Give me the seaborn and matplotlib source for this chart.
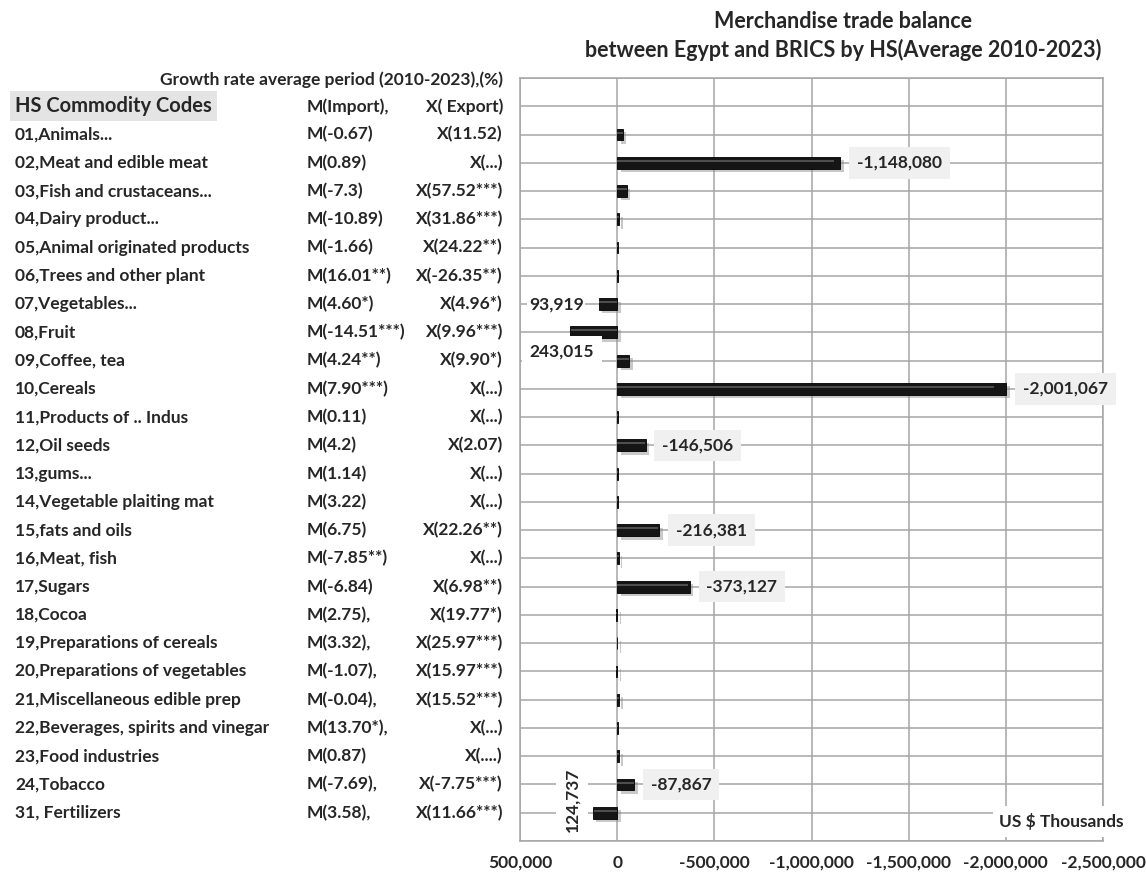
import numpy as np
import pandas as pd
import matplotlib
matplotlib.use('Agg')
import matplotlib.pyplot as plt
import matplotlib.transforms as mtrans
import matplotlib.patheffects as pe
import seaborn as sns

#=====================
# DATA
#=====================
codes = ["01,Animals...", "02,Meat and edible meat", "03,Fish and crustaceans...",
         "04,Dairy product...", "05,Animal originated products", "06,Trees and other plant",
         "07,Vegetables...", "08,Fruit", "09,Coffee, tea", "10,Cereals",
         "11,Products of .. Indus", "12,Oil seeds", "13,gums...", "14,Vegetable plaiting mat",
         "15,fats and oils", "16,Meat, fish", "17,Sugars", "18,Cocoa",
         "19,Preparations of cereals", "20,Preparations of vegetables",
         "21,Miscellaneous edible prep", "22,Beverages, spirits and vinegar",
         "23,Food industries", "24,Tobacco", "31, Fertilizers"]

m_growth = ["M(-0.67)", "M(0.89)", "M(-7.3)", "M(-10.89)", "M(-1.66)", "M(16.01**)",
            "M(4.60*)", "M(-14.51***)", "M(4.24**)", "M(7.90***)", "M(0.11)", "M(4.2)",
            "M(1.14)", "M(3.22)", "M(6.75)", "M(-7.85**)", "M(-6.84)", "M(2.75),",
            "M(3.32),", "M(-1.07),", "M(-0.04),", "M(13.70*),", "M(0.87)", "M(-7.69),",
            "M(3.58),"]

x_growth = ["X(11.52)", "X(...)", "X(57.52***)", "X(31.86***)", "X(24.22**)", "X(-26.35**)",
            "X(4.96*)", "X(9.96***)", "X(9.90*)", "X(...)", "X(...)", "X(2.07)",
            "X(...)", "X(...)", "X(22.26**)", "X(...)", "X(6.98**)", "X(19.77*)",
            "X(25.97***)", "X(15.97***)", "X(15.52***)", "X(...)", "X(....)",
            "X(-7.75***)", "X(11.66***)"]

# trade balance, US $ thousands (small ones)
balance = [-30000, -1148080, -50000, -10000, -3000, -3000, 93919, 243015, -62000,
           -2001067, -2000, -146506, -2000, -2000, -216381, -8000, -373127, 4000,
           3000, 4000, -12000, -3000, -12000, -87867, 124737]

boxed_labels = ["02", "10", "12", "15", "17", "24"]

x_ticks = [500000, 0, -500000, -1000000, -1500000, -2000000, -2500000]

title = "Merchandise trade balance\nbetween Egypt and BRICS by HS(Average 2010-2023)"

df = pd.DataFrame({'code': codes, 'balance': balance})
df['hs'] = df['code'].str[:2]

#=====================
# FIGURE
#=====================
sns.set_style('white')
plt.rcParams['font.family'] = ['Lato', 'DejaVu Sans']
FS = 12.5

W, H = 1146, 873
fig = plt.figure(figsize=(W / 100, H / 100), dpi=100, facecolor='white')
ax = fig.add_axes([520 / W, 32 / H, 583 / W, 763 / H])

sns.barplot(data=df, x='balance', y='code', orient='h', color='#151515',
            width=0.42, saturation=1, edgecolor='#000000', linewidth=0.6, ax=ax)

# shadow + highlight to mimic the bevelled bars
for p in ax.patches:
    p.set_path_effects([pe.SimplePatchShadow(offset=(2.5, -2.5), shadow_rgbFace='#888888', alpha=0.45),
                        pe.Normal()])
ypos = np.arange(len(df))
ax.hlines(ypos - 0.07, 0, df['balance'] * 0.97, color='#5a5a5a', lw=1.2, zorder=3)

ax.set_ylim(len(df), -2)
ax.set_yticks(np.arange(-2, len(df) + 1))
ax.set_yticklabels([])
ax.set_ylabel('')
ax.set_xlabel('')
ax.set_xlim(500000, -2500000)
ax.set_xticks(x_ticks)
ax.set_xticklabels([f"{v:,.0f}" for v in x_ticks], fontsize=FS, fontweight='bold')
ax.tick_params(axis='both', length=0)
ax.tick_params(axis='x', pad=10)
ax.grid(True, color='#a6a6a6', linewidth=1.1)
ax.set_axisbelow(True)
for s in ax.spines.values():
    s.set_color('#a6a6a6')
    s.set_linewidth(1.1)

# data labels
for i, row in df.iterrows():
    v = row['balance']
    if row['hs'] in boxed_labels:
        ax.annotate(f"{v:,.0f}", xy=(v, i), xytext=(12, 0), textcoords='offset points',
                    ha='left', va='center', fontsize=FS, fontweight='bold',
                    bbox=dict(boxstyle='square,pad=0.45', fc='#f0f0f0', ec='none'), zorder=5)
    elif row['hs'] == '07':
        ax.annotate(f"{v:,.0f}", xy=(v, i), xytext=(-11, 0), textcoords='offset points',
                    ha='right', va='center', fontsize=FS, fontweight='bold',
                    bbox=dict(boxstyle='square,pad=0.1', fc='white', ec='none'), zorder=5)
    elif row['hs'] == '08':
        ax.annotate(f"{v:,.0f}", xy=(v, i), xytext=(-6, -14), textcoords='offset points',
                    ha='center', va='center', fontsize=FS, fontweight='bold',
                    bbox=dict(boxstyle='square,pad=0.45', fc='white', ec='none'), zorder=5)
    elif row['hs'] == '31':
        ax.annotate(f"{v:,.0f}", xy=(v, i), xytext=(-15, 9), textcoords='offset points',
                    ha='center', va='center', fontsize=FS, fontweight='bold', rotation=90,
                    bbox=dict(boxstyle='square,pad=0.45', fc='white', ec='none'), zorder=5)

ax.text(1.036, 24.3, "US $ Thousands", transform=mtrans.blended_transform_factory(ax.transAxes, ax.transData),
        ha='right', va='center', fontsize=FS, fontweight='bold',
        bbox=dict(boxstyle='square,pad=0.4', fc='white', ec='none'), clip_on=False, zorder=6)

#=====================
# LEFT TABLE
#=====================
tr = mtrans.blended_transform_factory(fig.transFigure, ax.transData)
px = lambda x: x / W

ax.text(px(503), -1.93, "Growth rate average period (2010-2023),(%)", transform=tr,
        ha='right', va='center', fontsize=FS, fontweight='bold', clip_on=False)
ax.text(px(15), -1, "HS Commodity Codes", transform=tr, ha='left', va='center',
        fontsize=14.5, fontweight='bold', clip_on=False,
        bbox=dict(boxstyle='square,pad=0.25', fc='#e4e4e4', ec='none'))
ax.text(px(307), -1, "M(Import),", transform=tr, ha='left', va='center',
        fontsize=FS, fontweight='bold', clip_on=False)
ax.text(px(503), -1, "X( Export)", transform=tr, ha='right', va='center',
        fontsize=FS, fontweight='bold', clip_on=False)

for i in range(len(codes)):
    ax.text(px(15), i, codes[i], transform=tr, ha='left', va='center',
            fontsize=FS, fontweight='bold', clip_on=False)
    ax.text(px(307), i, m_growth[i], transform=tr, ha='left', va='center',
            fontsize=FS, fontweight='bold', clip_on=False)
    ax.text(px(503), i, x_growth[i], transform=tr, ha='right', va='center',
            fontsize=FS, fontweight='bold', clip_on=False)

fig.text(px(843), 1 - 36 / H, title, ha='center', va='center', fontsize=15.5,
         fontweight='bold', linespacing=1.35)

fig.savefig('out.png', dpi=100, facecolor='white')
